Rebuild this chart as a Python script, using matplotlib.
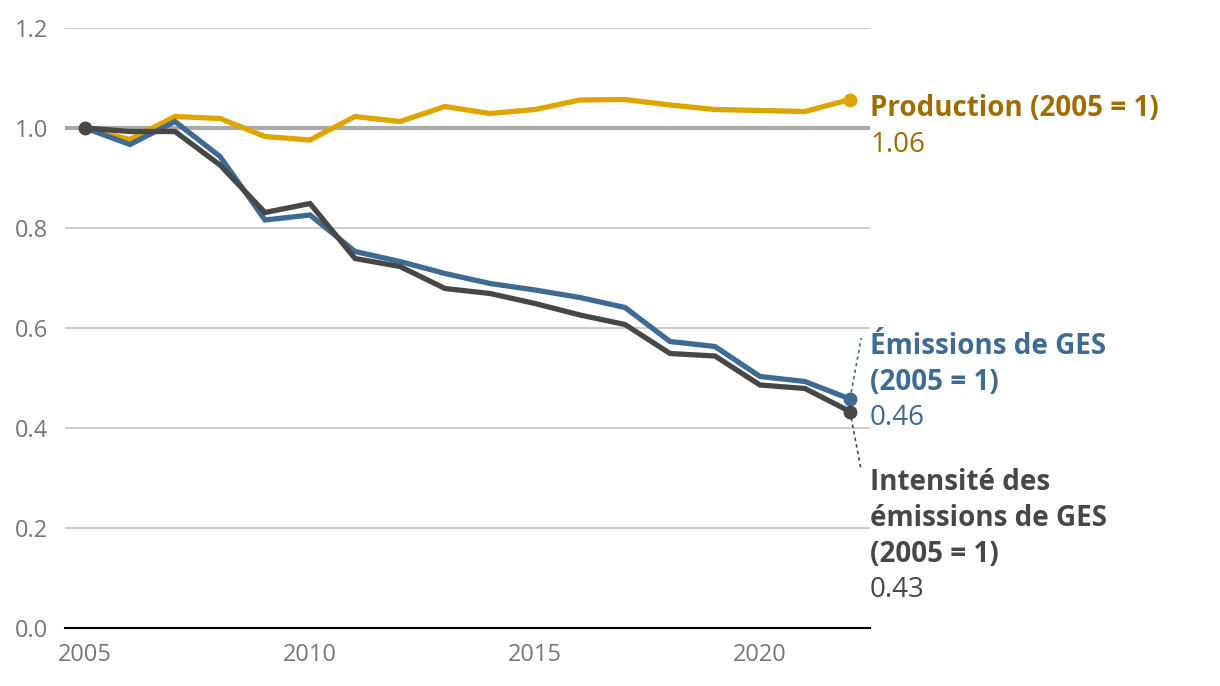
import matplotlib
matplotlib.use("Agg")
import matplotlib.pyplot as plt

plt.rcParams['font.family'] = ['Open Sans', 'DejaVu Sans']

years = list(range(2005, 2023))
production = [1.000, 0.977, 1.023, 1.019, 0.983, 0.976, 1.023, 1.013, 1.043,
              1.029, 1.037, 1.056, 1.057, 1.046, 1.037, 1.035, 1.033, 1.057]
emissions = [1.000, 0.967, 1.013, 0.943, 0.816, 0.826, 0.753, 0.733, 0.709,
             0.689, 0.676, 0.661, 0.641, 0.573, 0.563, 0.503, 0.493, 0.458]
intensity = [1.000, 0.993, 0.993, 0.926, 0.831, 0.849, 0.739, 0.723, 0.679,
             0.669, 0.649, 0.626, 0.607, 0.549, 0.544, 0.486, 0.479, 0.433]
yticks = [0.0, 0.2, 0.4, 0.6, 0.8, 1.0, 1.2]
xticks = [2005, 2010, 2015, 2020]

GOLD = '#dea500'
GOLD_TXT = '#9e6d00'
BLUE = '#3f6b93'
DARK = '#474747'
TICK = '#777777'

fig = plt.figure(figsize=(12.2, 6.86), dpi=100)
ax = fig.add_axes([65 / 1220, 1 - 628 / 686, 805 / 1220, 600 / 686])
ax.set_xlim(2005 - 20 / 45, 2022 + 20 / 45)
ax.set_ylim(0, 1.2)

for y in yticks[1:]:
    ax.axhline(y, color='#c4c4c4', lw=1.2, zorder=1)
ax.axhline(1.0, color='#aaaaaa', lw=3, zorder=1)
ax.axhline(0.0, color='black', lw=1.5, zorder=2, clip_on=False)

ax.plot(years, production, color=GOLD, lw=3.8, zorder=3, solid_joinstyle='miter')
ax.plot(years, emissions, color=BLUE, lw=3.8, zorder=4, solid_joinstyle='miter')
ax.plot(years, intensity, color=DARK, lw=3.8, zorder=5, solid_joinstyle='miter')

ax.plot(years[-1], production[-1], 'o', color=GOLD, ms=9, zorder=6)
ax.plot(years[-1], emissions[-1], 'o', color=BLUE, ms=9, zorder=6)
ax.plot(years[-1], intensity[-1], 'o', color=DARK, ms=9, zorder=6)
ax.plot(years[0], intensity[0], 'o', color=DARK, ms=9, zorder=6)

for s in ax.spines.values():
    s.set_visible(False)
ax.set_yticks(yticks)
ax.set_yticklabels([f'{v:.1f}' for v in yticks])
ax.set_xticks(xticks)
ax.set_xticklabels([str(v) for v in xticks])
ax.tick_params(axis='both', length=0, labelsize=17, labelcolor=TICK)
ax.tick_params(axis='y', pad=12)
ax.tick_params(axis='x', pad=11)

# leader lines
ax.plot([2022, 2022.25], [emissions[-1], 0.58], ls=(0, (2, 2)), color=BLUE,
        lw=1.2, clip_on=False, zorder=6)
ax.plot([2022, 2022.25], [intensity[-1], 0.315], ls=(0, (2, 2)), color=DARK,
        lw=1.2, clip_on=False, zorder=6)

tx = 870 / 1220
def label(y_px, text, color, weight):
    fig.text(tx, 1 - y_px / 686, text, color=color, fontsize=20,
             fontweight=weight, va='center', ha='left')

label(108, 'Production (2005 = 1)', GOLD_TXT, 'bold')
label(145, '1.06', GOLD_TXT, 'normal')
label(346, 'Émissions de GES', BLUE, 'bold')
label(382, '(2005 = 1)', BLUE, 'bold')
label(418, '0.46', BLUE, 'normal')
label(482, 'Intensité des', DARK, 'bold')
label(519, 'émissions de GES', DARK, 'bold')
label(555, '(2005 = 1)', DARK, 'bold')
label(590, '0.43', DARK, 'normal')

fig.savefig('out.png', dpi=100)
